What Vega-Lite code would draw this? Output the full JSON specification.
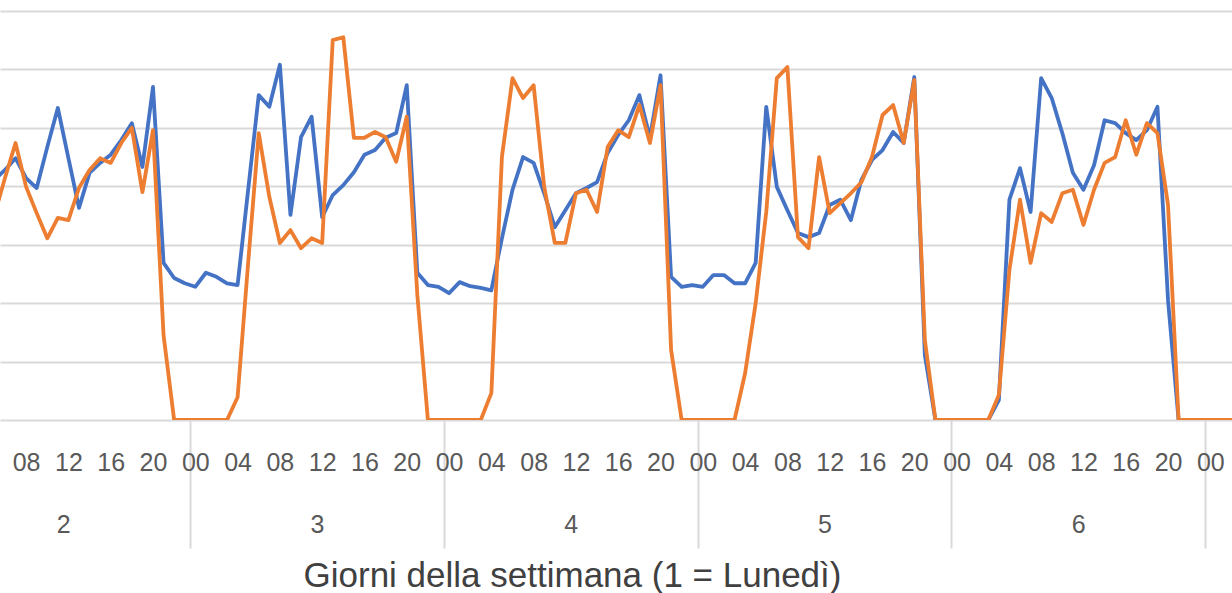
{
  "$schema": "https://vega.github.io/schema/vega-lite/v6.json",
  "width": 1232,
  "height": 420,
  "padding": 0,
  "autosize": {"type": "pad"},
  "background": "white",
  "config": {"view": {"stroke": null}, "font": "Liberation Sans"},
  "data": {"values": [
    {"t":29,"blu":41.1,"arancio":35.1},{"t":30,"blu":42.8,"arancio":41.4},{"t":31,"blu":44.8,"arancio":47.4},{"t":32,"blu":41.4,"arancio":39.9},
    {"t":33,"blu":39.7,"arancio":35.4},{"t":34,"blu":46.7,"arancio":31.1},{"t":35,"blu":53.4,"arancio":34.6},{"t":36,"blu":44.8,"arancio":34.2},
    {"t":37,"blu":36.3,"arancio":39.7},{"t":38,"blu":42.3,"arancio":42.8},{"t":39,"blu":44.0,"arancio":44.8},{"t":40,"blu":45.4,"arancio":44.0},
    {"t":41,"blu":47.9,"arancio":47.4},{"t":42,"blu":50.8,"arancio":50.0},{"t":43,"blu":43.3,"arancio":39.0},{"t":44,"blu":57.0,"arancio":49.6},
    {"t":45,"blu":26.9,"arancio":14.5},{"t":46,"blu":24.3,"arancio":0},{"t":47,"blu":23.4,"arancio":0},{"t":48,"blu":22.8,"arancio":0},
    {"t":49,"blu":25.2,"arancio":0},{"t":50,"blu":24.5,"arancio":0},{"t":51,"blu":23.4,"arancio":0},{"t":52,"blu":23.1,"arancio":3.9},
    {"t":53,"blu":39.4,"arancio":26.9},{"t":54,"blu":55.6,"arancio":49.1},{"t":55,"blu":53.6,"arancio":38.2},{"t":56,"blu":60.8,"arancio":30.3},
    {"t":57,"blu":35.1,"arancio":32.5},{"t":58,"blu":48.4,"arancio":29.4},{"t":59,"blu":51.9,"arancio":31.1},{"t":60,"blu":34.7,"arancio":30.3},
    {"t":61,"blu":38.5,"arancio":65.0},{"t":62,"blu":40.2,"arancio":65.5},{"t":63,"blu":42.4,"arancio":48.3},{"t":64,"blu":45.4,"arancio":48.3},
    {"t":65,"blu":46.2,"arancio":49.3},{"t":66,"blu":48.3,"arancio":48.4},{"t":67,"blu":49.1,"arancio":44.2},{"t":68,"blu":57.3,"arancio":51.9},
    {"t":69,"blu":25.2,"arancio":21.4},{"t":70,"blu":23.1,"arancio":0},{"t":71,"blu":22.8,"arancio":0},{"t":72,"blu":21.7,"arancio":0},
    {"t":73,"blu":23.6,"arancio":0},{"t":74,"blu":22.9,"arancio":0},{"t":75,"blu":22.6,"arancio":0},{"t":76,"blu":22.2,"arancio":4.6},
    {"t":77,"blu":31.1,"arancio":45.0},{"t":78,"blu":39.4,"arancio":58.5},{"t":79,"blu":45.0,"arancio":55.1},{"t":80,"blu":44.0,"arancio":57.3},
    {"t":81,"blu":38.8,"arancio":39.9},{"t":82,"blu":33.0,"arancio":30.3},{"t":83,"blu":35.9,"arancio":30.3},{"t":84,"blu":38.8,"arancio":38.8},
    {"t":85,"blu":39.7,"arancio":39.4},{"t":86,"blu":40.7,"arancio":35.6},{"t":87,"blu":45.7,"arancio":46.7},{"t":88,"blu":48.8,"arancio":49.6},
    {"t":89,"blu":51.3,"arancio":48.4},{"t":90,"blu":55.6,"arancio":53.9},{"t":91,"blu":48.3,"arancio":47.4},{"t":92,"blu":59.0,"arancio":57.3},
    {"t":93,"blu":24.5,"arancio":12.0},{"t":94,"blu":22.8,"arancio":0},{"t":95,"blu":23.1,"arancio":0},{"t":96,"blu":22.8,"arancio":0},
    {"t":97,"blu":24.8,"arancio":0},{"t":98,"blu":24.8,"arancio":0},{"t":99,"blu":23.4,"arancio":0},{"t":100,"blu":23.4,"arancio":8.0},
    {"t":101,"blu":26.9,"arancio":20.0},{"t":102,"blu":53.6,"arancio":35.6},{"t":103,"blu":39.9,"arancio":58.5},{"t":104,"blu":35.9,"arancio":60.4},
    {"t":105,"blu":32.0,"arancio":31.3},{"t":106,"blu":31.3,"arancio":29.4},{"t":107,"blu":32.0,"arancio":45.0},{"t":108,"blu":36.8,"arancio":35.4},
    {"t":109,"blu":37.7,"arancio":37.1},{"t":110,"blu":34.2,"arancio":38.8},{"t":111,"blu":41.1,"arancio":40.7},{"t":112,"blu":44.5,"arancio":45.0},
    {"t":113,"blu":46.2,"arancio":52.2},{"t":114,"blu":49.3,"arancio":53.9},{"t":115,"blu":47.4,"arancio":47.4},{"t":116,"blu":58.7,"arancio":58.2},
    {"t":117,"blu":11.1,"arancio":13.7},{"t":118,"blu":0,"arancio":0},{"t":119,"blu":0,"arancio":0},{"t":120,"blu":0,"arancio":0},
    {"t":121,"blu":0,"arancio":0},{"t":122,"blu":0,"arancio":0},{"t":123,"blu":0,"arancio":0},{"t":124,"blu":3.4,"arancio":4.3},
    {"t":125,"blu":37.7,"arancio":25.7},{"t":126,"blu":43.1,"arancio":37.7},{"t":127,"blu":35.6,"arancio":26.9},{"t":128,"blu":58.5,"arancio":35.4},
    {"t":129,"blu":55.1,"arancio":33.9},{"t":130,"blu":49.1,"arancio":38.8},{"t":131,"blu":42.3,"arancio":39.4},{"t":132,"blu":39.4,"arancio":33.4},
    {"t":133,"blu":43.6,"arancio":39.4},{"t":134,"blu":51.3,"arancio":44.0},{"t":135,"blu":50.8,"arancio":45.0},{"t":136,"blu":49.1,"arancio":51.3},
    {"t":137,"blu":47.9,"arancio":45.4},{"t":138,"blu":49.6,"arancio":50.8},{"t":139,"blu":53.6,"arancio":49.1},{"t":140,"blu":20.5,"arancio":36.8},
    {"t":141,"blu":0,"arancio":0},{"t":142,"blu":0,"arancio":0},{"t":143,"blu":0,"arancio":0},{"t":144,"blu":0,"arancio":0},
    {"t":145,"blu":0,"arancio":0},{"t":146,"blu":0,"arancio":0},{"t":147,"blu":0,"arancio":0}
  ]},
  "encoding": {
    "x": {
      "field": "t",
      "type": "quantitative",
      "scale": {"domain": [29.53, 146.05], "nice": false, "zero": false},
      "axis": {
        "values": [32,35.5,36,40,44,47.5,48,52,56,59.5,60,64,68,71.5,72,76,80,83.5,84,88,92,95.5,96,100,104,107.5,108,112,116,119.5,120,124,128,131.5,132,136,140,143.5,144],
        "labelExpr": "datum.value % 24 == 23.5 ? '' : (datum.value % 24 == 11.5 ? ['', '' + (floor(datum.value / 24) + 1)] : ((datum.value % 24 < 10 ? '0' : '') + (datum.value % 24)))",
        "grid": false,
        "domain": false,
        "ticks": true,
        "tickSize": 128,
        "tickColor": "#d9d9d9",
        "tickWidth": 2,
        "tickOpacity": {"condition": {"test": "datum.value % 24 == 23.5", "value": 1}, "value": 0},
        "labelPadding": -98,
        "labelBaseline": "top",
        "labelLineHeight": 62,
        "labelFontSize": 25,
        "labelFont": "Liberation Sans",
        "labelColor": "#595959",
        "labelOverlap": false,
        "labelBound": false,
        "labelFlush": false,
        "title": "Giorni della settimana (1 = Lunedì)",
        "titleFont": "Liberation Sans",
        "titleFontSize": 35,
        "titleFontWeight": "normal",
        "titleColor": "#404040",
        "titleX": 572,
        "titleY": 166,
        "titleAlign": "center",
        "titleBaseline": "alphabetic"
      }
    }
  },
  "layer": [
    {
      "mark": {"type": "line", "color": "#4472C4", "strokeWidth": 3.8, "clip": true, "strokeJoin": "round", "strokeCap": "round"},
      "encoding": {
        "y": {
          "field": "blu",
          "type": "quantitative",
          "scale": {"domain": [0, 71.88], "nice": false, "zero": true},
          "axis": {"values": [0,10,20,30,40,50,60,70], "grid": true, "gridColor": "#d9d9d9", "gridWidth": 2, "labels": false, "ticks": false, "domain": false, "title": null}
        }
      }
    },
    {
      "mark": {"type": "line", "color": "#ED7D31", "strokeWidth": 3.8, "clip": true, "strokeJoin": "round", "strokeCap": "round"},
      "encoding": {
        "y": {"field": "arancio", "type": "quantitative"}
      }
    }
  ]
}
